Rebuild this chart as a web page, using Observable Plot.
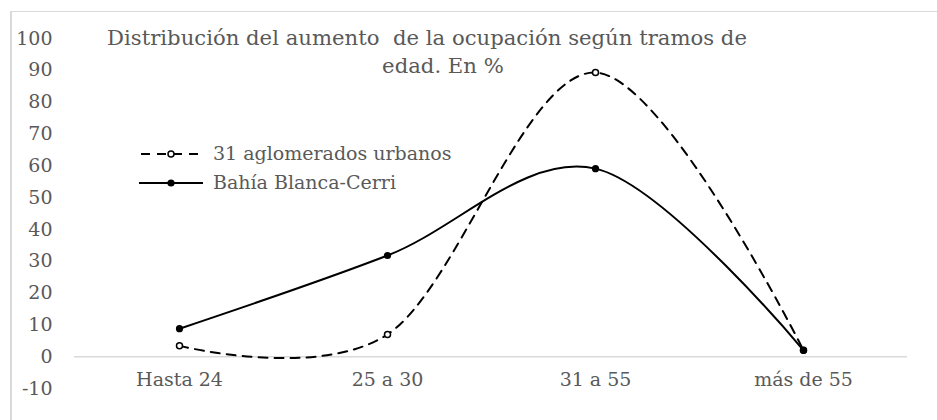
<!DOCTYPE html>
<html>
<head>
<meta charset="utf-8">
<script src="https://cdn.jsdelivr.net/npm/d3@7"></script>
<script src="https://cdn.jsdelivr.net/npm/@observablehq/plot@0.6"></script>
<style>
  html, body { margin: 0; padding: 0; background: #fff; }
  #wrap { position: relative; width: 937px; height: 420px; overflow: hidden; background: #fff; }
  #frame { position: absolute; left: 10px; top: 11px; width: 1000px; height: 500px;
           border-left: 2px solid #d9d9d9; border-top: 1.5px solid #d9d9d9; }
  #chart { position: absolute; left: 0; top: 0; }
  #overlay { position: absolute; left: 0; top: 0; pointer-events: none; }
  svg text { font-family: "DejaVu Serif", serif !important; }
</style>
</head>
<body>
<div id="wrap">
  <div id="frame"></div>
  <div id="chart"></div>
  <svg id="overlay" width="937" height="420"></svg>
</div>
<script>
// ---- data ----
const categories = ["Hasta 24", "25 a 30", "31 a 55", "más de 55"];
const aglomerados = [3.4, 7.0, 89.3, 2.0];
const bahiaBlanca = [8.8, 31.8, 59.1, 2.0];
const yTicks = [-10, 0, 10, 20, 30, 40, 50, 60, 70, 80, 90, 100];
const seriesNames = ["31 aglomerados urbanos", "Bahía Blanca-Cerri"];
const titleLines = ["Distribución del aumento  de la ocupación según tramos de", "edad. En %"];

const rowsA = categories.map((c, i) => ({cat: c, value: aglomerados[i]}));
const rowsB = categories.map((c, i) => ({cat: c, value: bahiaBlanca[i]}));

const TEXT = "#595959";
const FONT = "DejaVu Serif";

const chart = Plot.plot({
  width: 937,
  height: 420,
  marginLeft: 74,
  marginRight: 30,
  marginTop: 38,
  marginBottom: 32,
  style: {fontFamily: FONT, fontSize: "19px", color: TEXT, background: "transparent", overflow: "visible"},
  x: {type: "point", domain: categories, padding: 0.5, axis: null},
  y: {domain: [-10, 100], axis: null},
  marks: [
    Plot.ruleY([0], {stroke: "#d9d9d9", strokeWidth: 1.5}),
    Plot.axisY({ticks: yTicks, tickSize: 0, tickPadding: 22, tickFormat: d => String(d), fill: TEXT, label: null}),
    Plot.text(categories, {x: d => d, y: () => 0, dy: 23, fill: TEXT}),
    Plot.line(rowsA, {x: "cat", y: "value", curve: "cardinal", stroke: "black", strokeWidth: 2, strokeDasharray: "9,7"}),
    Plot.dot(rowsA, {x: "cat", y: "value", r: 3, fill: "white", stroke: "black", strokeWidth: 1.5}),
    Plot.line(rowsB, {x: "cat", y: "value", curve: "cardinal", stroke: "black", strokeWidth: 2}),
    Plot.dot(rowsB, {x: "cat", y: "value", r: 3.6, fill: "black"})
  ]
});
document.getElementById("chart").appendChild(chart);

const ns = "http://www.w3.org/2000/svg";
const ov = document.getElementById("overlay");
function addText(str, x, y, anchor, size, stretch) {
  const t = document.createElementNS(ns, "text");
  t.setAttribute("x", x);
  t.setAttribute("y", y);
  t.setAttribute("text-anchor", anchor);
  t.setAttribute("fill", TEXT);
  t.setAttribute("font-size", size);
  t.setAttribute("style", "white-space: pre");
  if (stretch !== 1) t.setAttribute("transform", `translate(${x},0) scale(${stretch},1) translate(${-x},0)`);
  t.textContent = str;
  ov.appendChild(t);
}
function addEl(tag, attrs) {
  const e = document.createElementNS(ns, tag);
  for (const k in attrs) e.setAttribute(k, attrs[k]);
  ov.appendChild(e);
}
addText(titleLines[0], 427, 45, "middle", 20, 1.06);
addText(titleLines[1], 443, 73, "middle", 20, 1.06);

// legend
addEl("line", {x1: 139, x2: 203, y1: 154, y2: 154, stroke: "black", "stroke-width": 2, "stroke-dasharray": "9,7", "stroke-dashoffset": -2});
addEl("circle", {cx: 171, cy: 154, r: 3, fill: "white", stroke: "black", "stroke-width": 1.5});
addText(seriesNames[0], 213, 160, "start", 19, 1);
addEl("line", {x1: 139, x2: 203, y1: 183, y2: 183, stroke: "black", "stroke-width": 2});
addEl("circle", {cx: 171, cy: 183, r: 3.6, fill: "black"});
addText(seriesNames[1], 213, 189, "start", 19, 1);
</script>
</body>
</html>
